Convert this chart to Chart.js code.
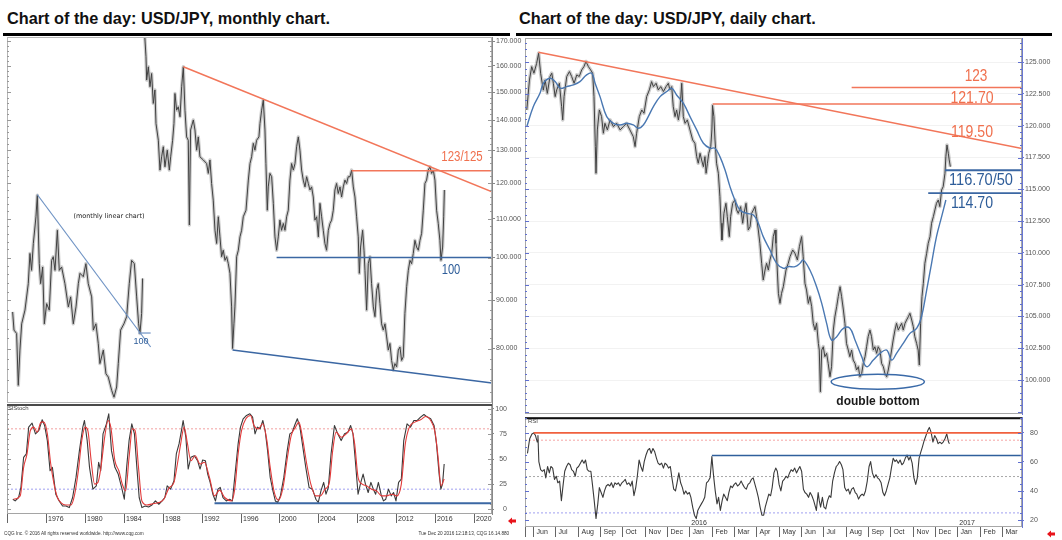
<!DOCTYPE html>
<html><head><meta charset="utf-8">
<script src="https://cdn.jsdelivr.net/npm/chart.js"></script>
<style>
html,body{margin:0;padding:0;background:#fff}
body{width:1062px;height:540px;position:relative;overflow:hidden;font-family:"Liberation Sans",Arial,sans-serif}
canvas{position:absolute}
.a{position:absolute;white-space:nowrap;line-height:1}
.c{transform:translate(-50%,-50%)}
.title{font-weight:bold;font-size:16.3px;color:#111;top:10px}
.bar{position:absolute;background:#000;height:3px;top:33px}
.red{color:#f0704e}
.blue{color:#2e5d99}
</style></head>
<body>
<div class="a title" style="left:7px">Chart of the day: USD/JPY, monthly chart.</div>
<div class="a title" style="left:519px">Chart of the day: USD/JPY, daily chart.</div>
<div class="bar" style="left:3px;width:507px"></div>
<div class="bar" style="left:516px;width:536px"></div>

<canvas id="lp" width="530" height="380" style="left:0;top:30px"></canvas>
<canvas id="ls" width="530" height="133" style="left:0;top:396px"></canvas>
<canvas id="rp" width="546" height="390" style="left:516px;top:30px"></canvas>
<canvas id="rr" width="546" height="133" style="left:516px;top:407px"></canvas>

<div class="a c" style="left:109px;top:216px;font-size:6.5px;color:#222;font-family:'DejaVu Sans'">(monthly linear chart)</div>
<div class="a c blue" style="left:141px;top:341px;font-size:9px">100</div>
<div class="a red" style="left:462px;top:156px;font-size:15.5px;transform:translate(-50%,-50%) scaleX(0.74)">123/125</div>
<div class="a blue" style="left:451px;top:269px;font-size:15.5px;transform:translate(-50%,-50%) scaleX(0.72)">100</div>
<div class="a" style="left:8px;top:405px;font-size:6px;color:#444">SlStoch</div>
<div class="a" style="left:528px;top:418px;font-size:6px;color:#444">RSI</div>

<div class="a red" style="left:976px;top:75px;font-size:17px;transform:translate(-50%,-50%) scaleX(0.8)">123</div>
<div class="a red" style="left:972px;top:97px;font-size:17px;transform:translate(-50%,-50%) scaleX(0.83)">121.70</div>
<div class="a red" style="left:972px;top:130.5px;font-size:17px;transform:translate(-50%,-50%) scaleX(0.83)">119.50</div>
<div class="a blue" style="left:981px;top:179px;font-size:17px;transform:translate(-50%,-50%) scaleX(0.86)">116.70/50</div>
<div class="a blue" style="left:972px;top:201.5px;font-size:17px;transform:translate(-50%,-50%) scaleX(0.83)">114.70</div>
<div class="a c" style="left:878px;top:401px;font-size:12px;font-weight:bold;color:#1a1a1a">double bottom</div>

<div class="a" style="left:4px;top:530px;font-size:6px;color:#333;transform:scaleX(0.78);transform-origin:left center">CQG Inc. © 2016 All rights reserved worldwide. http://www.cqg.com</div>
<div class="a" style="right:553px;top:530px;font-size:6px;color:#333;transform:scaleX(0.78);transform-origin:right center">Tue Dec 20 2016 12:18:13, CQG 16.14.880</div>
<svg width="1062" height="540" style="position:absolute;left:0;top:0;pointer-events:none">
<polygon fill="#e8141b" points="508,521 512,517.5 512,519.5 516,519.5 516,522.5 512,522.5 512,524.5"/>
<polygon fill="#e8141b" points="1047,534 1051,530.5 1051,532.5 1055,532.5 1055,535.5 1051,535.5 1051,537.5"/>
</svg>

<script>
// ---------------- DATA: monthly chart (x = year, y = USD/JPY) ----------------
const yearTicks = [1976,1980,1984,1988,1992,1996,2000,2004,2008,2012,2016,2020];
const monthlyPriceTicks = [80,90,100,110,120,130,140,150,160,170];
const stochTicks = [0,25,50,75,100];

const insetPrice = [[1972.55,87.5],[1972.69,83.7],[1972.96,83.0],[1973.13,73.1],[1973.30,79.7],[1973.48,85.0],[1973.82,87.9],[1974.16,93.8],[1974.33,101.0],[1974.50,96.9],[1974.68,103.5],[1974.95,110.5],[1975.09,116.5],[1975.29,98.5],[1975.43,93.8],[1975.64,97.7],[1975.81,85.0],[1976.05,89.3],[1976.32,87.9],[1976.56,99.3],[1976.73,100.2],[1976.91,96.9],[1977.15,106.9],[1977.35,96.9],[1977.59,97.7],[1977.93,93.8],[1978.28,88.6],[1978.52,90.8],[1978.79,85.0],[1979.07,88.6],[1979.31,93.8],[1979.48,96.2],[1979.82,95.4],[1980.09,98.5],[1980.33,93.8],[1980.68,90.8],[1980.85,83.7],[1981.12,85.0],[1981.36,81.0],[1981.53,77.1],[1981.88,79.7],[1982.15,75.2],[1982.39,74.6],[1982.74,72.2],[1982.98,71.0],[1983.25,72.8],[1983.42,77.1],[1983.66,83.7],[1984.00,85.0],[1984.28,86.5],[1984.55,93.8],[1984.79,99.3],[1985.07,98.5],[1985.31,90.8],[1985.51,85.0],[1985.65,83.0],[1985.82,87.2],[1985.92,95.0]];

const monthlyPrice = [[1986.10,175],[1986.27,163.6],[1986.34,154.5],[1986.51,159.6],[1986.68,152.0],[1986.85,157.0],[1987.02,145.9],[1987.19,150.8],[1987.30,138.9],[1987.54,133.3],[1987.71,123.9],[1987.88,128.0],[1988.05,131.2],[1988.22,124.9],[1988.46,130.1],[1988.67,123.9],[1988.81,128.0],[1989.01,133.3],[1989.15,138.9],[1989.25,149.5],[1989.42,143.5],[1989.59,144.7],[1989.77,141.2],[1989.94,152.0],[1990.11,159.6],[1990.28,143.5],[1990.45,134.4],[1990.62,133.3],[1990.73,108.3],[1990.86,136.7],[1991.14,140.1],[1991.31,136.7],[1991.48,130.1],[1991.65,134.4],[1991.82,128.0],[1992.17,127.0],[1992.51,125.9],[1992.68,122.9],[1992.85,127.0],[1993.02,119.9],[1993.19,115.1],[1993.37,106.9],[1993.54,103.5],[1993.71,110.5],[1993.88,105.2],[1994.05,100.2],[1994.22,101.8],[1994.40,99.3],[1994.57,100.2],[1994.74,98.5],[1994.91,96.2],[1995.08,88.6],[1995.18,80.0],[1995.32,85.0],[1995.42,88.6],[1995.60,100.2],[1995.77,101.8],[1995.94,105.2],[1996.11,106.9],[1996.28,110.5],[1996.56,112.3],[1996.80,120.9],[1996.97,125.9],[1997.14,128.0],[1997.31,132.3],[1997.48,130.1],[1997.65,133.3],[1997.89,134.4],[1998.00,138.9],[1998.17,143.5],[1998.34,147.1],[1998.51,136.7],[1998.61,125.9],[1998.75,112.3],[1998.85,118.9],[1999.02,122.9],[1999.20,121.9],[1999.37,114.2],[1999.54,105.2],[1999.71,101.8],[1999.88,105.2],[2000.05,109.6],[2000.22,106.9],[2000.40,108.7],[2000.57,106.9],[2000.74,110.5],[2000.91,112.3],[2001.08,120.9],[2001.25,125.9],[2001.43,123.9],[2001.60,125.9],[2001.77,131.2],[2001.94,134.4],[2002.11,130.1],[2002.28,123.9],[2002.45,120.9],[2002.63,118.9],[2002.80,121.9],[2002.97,119.9],[2003.14,118.0],[2003.31,118.9],[2003.48,116.0],[2003.65,109.6],[2003.83,110.5],[2004.00,105.2],[2004.17,114.2],[2004.34,110.5],[2004.51,106.9],[2004.68,103.5],[2004.85,101.8],[2005.03,106.9],[2005.20,108.7],[2005.37,109.6],[2005.54,112.3],[2005.71,118.0],[2005.88,119.9],[2006.05,117.0],[2006.23,118.9],[2006.40,116.0],[2006.57,118.9],[2006.74,120.9],[2006.91,119.9],[2007.08,121.9],[2007.26,121.9],[2007.43,123.9],[2007.60,118.9],[2007.77,116.0],[2007.94,110.5],[2008.11,105.2],[2008.22,96.2],[2008.35,102.6],[2008.56,106.9],[2008.70,101.8],[2008.80,96.9],[2008.97,87.9],[2009.14,98.5],[2009.31,100.2],[2009.48,93.8],[2009.66,88.6],[2009.83,86.5],[2010.00,92.3],[2010.17,93.8],[2010.34,89.3],[2010.51,85.0],[2010.68,83.7],[2010.86,85.0],[2011.03,82.3],[2011.20,79.7],[2011.37,81.0],[2011.54,77.7],[2011.71,75.9],[2011.88,77.1],[2012.06,76.5],[2012.23,79.7],[2012.40,80.3],[2012.57,77.7],[2012.74,78.4],[2012.91,87.2],[2013.09,93.1],[2013.26,96.9],[2013.43,99.3],[2013.60,98.5],[2013.77,101.0],[2013.94,104.3],[2014.11,102.6],[2014.29,101.8],[2014.46,104.3],[2014.63,106.1],[2014.80,112.3],[2014.97,119.9],[2015.14,120.9],[2015.31,123.9],[2015.49,124.9],[2015.66,122.9],[2015.83,123.9],[2016.00,120.9],[2016.17,112.3],[2016.34,108.7],[2016.51,104.3],[2016.62,99.3],[2016.79,102.6],[2016.90,110.5],[2016.97,118.0]];

const monthlyResistance = [[1990.11,159.6],[2021.87,117.5]];
const monthlyLevel123 = [[2007.43,123.7],[2021.87,123.7]];
const monthlyLevel100 = [[1999.71,100],[2021.87,100]];
const monthlySupport = [[1995.18,79.7],[2021.87,73.5]];
const insetTrend = [[1975.08,116.7],[1986.75,80.3]];
const insetLevel = [[1985.48,83.1],[1986.75,83.1]];

const stochK = [[1972.57,10],[1972.81,8.3],[1973.16,11.7],[1973.40,21.7],[1973.68,51.7],[1973.96,55],[1974.20,81.7],[1974.55,85.7],[1974.90,75],[1975.24,78.3],[1975.59,89],[1975.84,83.3],[1976.12,68.3],[1976.40,38.3],[1976.64,41.7],[1976.99,15],[1977.34,8.3],[1977.69,3.3],[1978.03,3.3],[1978.38,1.7],[1978.72,11.7],[1979.07,31.7],[1979.42,58.3],[1979.77,81.7],[1979.94,88.3],[1980.22,68.3],[1980.46,41.7],[1980.81,20],[1981.16,23.3],[1981.40,46.7],[1981.61,38.3],[1981.85,75],[1982.20,85],[1982.44,95],[1982.72,58.3],[1983.07,41.7],[1983.41,35],[1983.76,21.7],[1984.04,10],[1984.28,41.7],[1984.53,68.3],[1984.81,85],[1985.08,75],[1985.33,41.7],[1985.57,11.7],[1985.85,1.7],[1986.19,3.3],[1986.54,2.3],[1986.89,4.3],[1987.24,8.3],[1987.59,5],[1987.93,8.3],[1988.21,11.7],[1988.45,23.3],[1988.80,20],[1989.15,28.3],[1989.39,55],[1989.67,65],[1989.95,80],[1990.09,88.3],[1990.37,71.7],[1990.61,40],[1990.89,51.7],[1991.24,53.3],[1991.58,48.3],[1991.83,40],[1992.10,49],[1992.38,48.3],[1992.62,35],[1992.87,26.7],[1993.15,15],[1993.42,8.3],[1993.67,20],[1993.91,21.7],[1994.19,11.7],[1994.53,8.3],[1994.88,10],[1995.16,8.3],[1995.40,31.7],[1995.75,65],[1995.99,81.7],[1996.27,90],[1996.61,93.3],[1996.96,95],[1997.24,91.7],[1997.49,75],[1997.73,81.7],[1998.01,80],[1998.29,88.3],[1998.53,78.3],[1998.78,58.3],[1999.05,31.7],[1999.33,18.3],[1999.58,8.3],[1999.82,6.7],[2000.10,13.3],[2000.45,31.7],[2000.80,58.3],[2001.07,75],[2001.32,76.7],[2001.56,83.3],[2001.84,90],[2002.11,81.7],[2002.36,65],[2002.71,41.7],[2003.05,21.7],[2003.40,20],[2003.75,10],[2003.99,6.7],[2004.27,18.3],[2004.55,26.7],[2004.79,15],[2005.03,21.7],[2005.31,55],[2005.66,83.3],[2006.00,75],[2006.35,68.3],[2006.70,75],[2007.05,76.7],[2007.32,83.3],[2007.57,75],[2007.81,48.3],[2008.09,15],[2008.37,26.7],[2008.61,35],[2008.85,25],[2009.13,16.7],[2009.41,26.7],[2009.66,20],[2009.90,15],[2010.18,26.7],[2010.45,15],[2010.70,8.3],[2010.94,10],[2011.22,20],[2011.50,13.3],[2011.74,16.7],[2011.99,8.3],[2012.26,26.7],[2012.54,30],[2012.79,68.3],[2013.13,85],[2013.48,81.7],[2013.83,88.3],[2014.18,88.3],[2014.52,91.7],[2014.87,94.3],[2015.22,91.7],[2015.56,90],[2015.91,83.3],[2016.16,65],[2016.43,35],[2016.61,20],[2016.78,25],[2016.95,45]];

const stochD = [[1972.64,10],[1973.33,13.3],[1973.68,41.7],[1974.03,55],[1974.37,78.3],[1974.72,81.7],[1975.07,76.7],[1975.48,86.7],[1975.76,86.7],[1976.12,75],[1976.47,45],[1976.81,25],[1977.16,11.7],[1977.51,6.7],[1978.03,4.3],[1978.55,4.3],[1978.90,13.3],[1979.31,38.3],[1979.66,68.3],[1980.01,81.7],[1980.29,78.3],[1980.63,48.3],[1980.98,25],[1981.33,26.7],[1981.68,45],[1982.02,71.7],[1982.37,88.3],[1982.65,81.7],[1983.07,48.3],[1983.48,38.3],[1983.83,25],[1984.18,18.3],[1984.53,51.7],[1984.87,80],[1985.15,78.3],[1985.50,41.7],[1985.85,8.3],[1986.37,4.3],[1987.07,5.7],[1987.59,6.7],[1988.11,10],[1988.63,21],[1989.15,26.7],[1989.50,45],[1989.84,65],[1990.19,81.7],[1990.54,65],[1990.89,48.3],[1991.34,53.3],[1991.83,45],[1992.28,46.7],[1992.80,31.7],[1993.32,13.3],[1993.84,19],[1994.36,11.7],[1995.06,8.3],[1995.40,20],[1995.75,55],[1996.10,78.3],[1996.55,90],[1997.03,93.3],[1997.38,83.3],[1997.83,80],[1998.29,85],[1998.71,68.3],[1999.05,41.7],[1999.47,16.7],[1999.92,9],[2000.37,21.7],[2000.80,50],[2001.21,73.3],[2001.66,81.7],[2002.01,86.7],[2002.36,71.7],[2002.81,45],[2003.23,25],[2003.75,13.3],[2004.20,13.3],[2004.69,20],[2005.14,26.7],[2005.48,58.3],[2005.83,76.7],[2006.35,71.7],[2006.87,75],[2007.39,80],[2007.74,65],[2008.09,31.7],[2008.51,25],[2008.96,23.3],[2009.48,20],[2010.00,18.3],[2010.52,13.3],[2011.04,13.3],[2011.56,15],[2012.09,13.3],[2012.54,25],[2012.95,65],[2013.37,81.7],[2013.93,86.7],[2014.52,89],[2015.04,92.3],[2015.56,88.3],[2016.01,76.7],[2016.36,48.3],[2016.61,23.3],[2016.95,30]];

const stochLevel = [[1993.32,6],[2021.87,6]];
const stochUpper = [[1971.97,80],[2021.87,80]];
const stochLower = [[1971.97,20],[2021.87,20]];

// ---------------- DATA: daily chart (x = months since 1 Jun 2015) ----------------
const monthNames = ['Jun','Jul','Aug','Sep','Oct','Nov','Dec','Jan','Feb','Mar','Apr','May','Jun','Jul','Aug','Sep','Oct','Nov','Dec','Jan','Feb','Mar'];
const yearMarks = [[7,'2016'],[19,'2017']];
const dailyPriceTicks = [100,102.5,105,107.5,110,112.5,115,117.5,120,122.5,125];
const rsiTicks = [20,40,60,80];

const dailyPrice = [[-0.28,121.24],[-0.16,123.6],[-0.06,124.65],[0.04,124.13],[0.16,124.9],[0.25,125.7],[0.34,124.13],[0.46,122.8],[0.54,123.6],[0.64,122.55],[0.76,123.87],[0.84,124.13],[0.91,123.34],[0.99,122.29],[1.06,122.82],[1.18,123.34],[1.28,121.5],[1.33,120.46],[1.39,122.29],[1.51,123.87],[1.63,124.26],[1.73,123.87],[1.84,123.34],[1.96,124.0],[2.07,123.87],[2.18,124.39],[2.28,124.65],[2.37,125.05],[2.48,124.65],[2.58,124.39],[2.67,124.13],[2.73,122.29],[2.79,118.36],[2.82,116.26],[2.88,119.67],[2.97,121.24],[3.07,120.72],[3.15,119.41],[3.22,120.19],[3.33,119.67],[3.45,120.46],[3.60,119.93],[3.75,120.19],[3.90,119.67],[4.04,119.93],[4.19,120.19],[4.34,119.67],[4.49,119.14],[4.57,118.36],[4.64,119.41],[4.76,120.72],[4.87,121.24],[4.97,120.98],[5.09,122.29],[5.21,122.82],[5.31,123.47],[5.39,123.08],[5.51,123.34],[5.61,122.82],[5.72,123.08],[5.84,122.69],[5.96,123.08],[6.06,123.34],[6.13,122.82],[6.21,123.08],[6.28,121.5],[6.36,120.72],[6.43,121.24],[6.51,120.46],[6.58,121.24],[6.66,123.34],[6.73,120.72],[6.81,120.19],[6.91,120.46],[7.03,119.67],[7.15,118.88],[7.25,118.62],[7.33,117.57],[7.40,117.05],[7.48,117.83],[7.55,117.31],[7.63,116.78],[7.70,117.57],[7.75,116.26],[7.81,117.05],[7.87,117.83],[7.96,118.36],[8.01,119.67],[8.04,121.6],[8.10,120.72],[8.15,118.88],[8.22,117.05],[8.30,116.26],[8.37,114.42],[8.42,112.33],[8.46,111.01],[8.55,113.11],[8.64,113.9],[8.70,112.85],[8.79,111.28],[8.85,112.85],[8.94,113.9],[9.04,114.16],[9.12,113.38],[9.19,113.11],[9.30,113.64],[9.39,112.33],[9.45,113.11],[9.54,113.9],[9.64,111.8],[9.72,112.06],[9.79,113.11],[9.87,113.38],[9.94,113.64],[10.01,112.85],[10.09,111.8],[10.16,110.75],[10.24,109.18],[10.31,107.87],[10.39,108.65],[10.46,109.18],[10.54,108.65],[10.61,109.44],[10.69,109.97],[10.76,111.28],[10.84,111.8],[10.88,110.75],[10.94,108.65],[10.99,106.82],[11.06,106.03],[11.13,106.82],[11.21,107.34],[11.33,108.65],[11.43,109.18],[11.51,109.7],[11.63,110.23],[11.73,109.97],[11.84,109.44],[11.93,110.49],[12.03,111.28],[12.10,109.7],[12.18,107.6],[12.25,107.08],[12.33,106.03],[12.40,106.56],[12.48,105.77],[12.55,104.46],[12.63,103.93],[12.70,104.46],[12.78,102.88],[12.82,102.36],[12.87,99.08],[12.93,102.36],[13.00,102.62],[13.07,101.84],[13.15,102.1],[13.22,101.31],[13.30,100.26],[13.37,101.05],[13.45,103.93],[13.52,104.98],[13.60,105.77],[13.67,106.56],[13.75,107.34],[13.82,106.56],[13.90,105.51],[13.97,104.46],[14.04,102.88],[14.12,102.36],[14.19,101.84],[14.27,102.36],[14.34,101.57],[14.42,101.31],[14.49,100.79],[14.57,101.05],[14.64,100.26],[14.72,100.52],[14.79,101.31],[14.87,101.84],[14.94,102.62],[15.01,103.41],[15.09,103.93],[15.16,103.41],[15.24,102.36],[15.31,102.62],[15.39,102.1],[15.46,102.62],[15.54,102.36],[15.61,101.31],[15.69,101.05],[15.76,100.52],[15.84,100.26],[15.91,100.79],[15.99,101.57],[16.06,102.36],[16.13,103.15],[16.21,103.93],[16.28,104.46],[16.36,103.93],[16.43,104.2],[16.51,104.46],[16.58,103.93],[16.66,104.46],[16.73,104.72],[16.81,104.98],[16.88,105.25],[16.96,104.72],[17.03,104.2],[17.10,103.41],[17.18,102.88],[17.25,102.36],[17.30,101.18],[17.36,104.46],[17.42,106.56],[17.48,107.6],[17.55,109.18],[17.63,109.97],[17.70,110.75],[17.78,111.28],[17.85,112.33],[17.93,112.85],[18.00,113.38],[18.07,113.9],[18.15,114.16],[18.22,113.64],[18.30,114.95],[18.37,115.21],[18.45,116.26],[18.49,117.57],[18.54,118.49],[18.60,117.83],[18.64,117.31],[18.69,116.78]];

const dailyMA = [[-0.28,119.93],[0.01,121.5],[0.31,122.55],[0.46,123.34],[0.76,123.73],[0.99,123.47],[1.22,122.95],[1.51,123.08],[1.81,123.21],[2.10,123.47],[2.40,124.0],[2.63,124.13],[2.78,123.34],[3.00,122.29],[3.30,120.72],[3.60,120.19],[3.90,120.06],[4.19,120.19],[4.49,120.06],[4.72,119.8],[4.94,120.06],[5.16,120.72],[5.39,121.5],[5.69,122.29],[5.99,122.69],[6.21,122.95],[6.43,122.42],[6.73,121.77],[7.03,120.72],[7.33,119.67],[7.63,118.62],[7.93,118.23],[8.15,118.23],[8.37,117.57],[8.60,116.52],[8.82,115.21],[9.04,114.16],[9.27,113.38],[9.57,113.11],[9.87,112.98],[10.09,112.33],[10.31,111.28],[10.61,110.23],[10.91,109.18],[11.21,108.79],[11.43,108.92],[11.73,108.92],[11.96,109.18],[12.10,109.44],[12.40,108.65],[12.70,107.34],[12.93,106.03],[13.15,104.46],[13.37,103.15],[13.60,103.41],[13.90,104.07],[14.19,104.07],[14.42,103.15],[14.72,101.84],[14.94,101.05],[15.24,101.57],[15.54,102.1],[15.84,102.36],[16.06,101.57],[16.28,102.1],[16.58,102.88],[16.88,103.67],[17.18,104.07],[17.40,104.98],[17.63,107.08],[17.85,109.18],[18.07,111.28],[18.30,112.85],[18.49,114.16]];

const dailyTrend = [[0.24,125.78],[21.9,118.2]];
const dailyLevel123 = [[14.27,123],[21.9,123]];
const dailyLevel1217 = [[8.05,121.7],[21.9,121.7]];
const dailyLevel1165 = [[18.45,116.5],[21.9,116.5]];
const dailyLevel1147 = [[17.70,114.7],[21.9,114.7]];
const doubleBottom = {m:15.44, v:99.87, dm:2.09, dv:0.59};

const rsi = [[-0.25,65.9],[-0.15,76],[-0.05,79.3],[0.03,80],[0.11,78.2],[0.19,73.7],[0.22,78.2],[0.26,60.3],[0.34,54.7],[0.42,53.6],[0.50,54.7],[0.57,49.1],[0.65,56.9],[0.73,52.5],[0.80,56.9],[0.88,55.8],[0.96,48],[1.04,50.2],[1.11,45.7],[1.19,46.9],[1.27,33.4],[1.35,44.6],[1.42,53.6],[1.50,56.9],[1.58,59.2],[1.66,58.1],[1.73,54.7],[1.81,53.6],[1.89,50.2],[1.96,55.8],[2.04,56.9],[2.12,59.2],[2.20,61.4],[2.28,59.2],[2.35,61.4],[2.43,54.7],[2.51,53.6],[2.59,53.6],[2.66,44.6],[2.74,33.4],[2.82,21.1],[2.90,31.2],[2.97,42.4],[3.05,39],[3.13,35.7],[3.20,40.1],[3.28,43.5],[3.36,44.6],[3.44,43.5],[3.51,45.7],[3.59,42.4],[3.67,45.7],[3.75,44.6],[3.82,45.7],[3.90,43.5],[3.98,45.7],[4.06,46.9],[4.13,48],[4.21,44.6],[4.29,45.7],[4.37,43.5],[4.44,46.9],[4.52,36.8],[4.60,42.4],[4.67,50.2],[4.75,61.4],[4.83,56.9],[4.91,53.6],[4.98,60.3],[5.06,64.8],[5.14,68.1],[5.22,69.3],[5.29,65.9],[5.37,69.3],[5.45,67],[5.53,62.5],[5.60,59.2],[5.68,58.1],[5.76,59.2],[5.84,55.8],[5.91,59.2],[5.99,58.1],[6.07,55.8],[6.15,56.9],[6.22,49.1],[6.30,41.3],[6.38,40.1],[6.45,45.7],[6.53,52.5],[6.61,45.7],[6.69,42.4],[6.76,37.9],[6.84,40.1],[6.92,37.9],[7.00,39],[7.07,35.7],[7.15,29],[7.23,23.4],[7.31,21.1],[7.38,26.7],[7.46,29],[7.54,31.2],[7.62,33.4],[7.69,35.7],[7.77,45.7],[7.85,46.9],[7.93,49.1],[8.01,63.7],[8.08,51.3],[8.16,40.1],[8.24,31.2],[8.31,35.7],[8.39,26.7],[8.47,33.4],[8.54,37.9],[8.62,35.7],[8.70,33.4],[8.77,39],[8.85,43.5],[8.93,42.4],[9.01,44.6],[9.08,45.7],[9.16,43.5],[9.24,44.6],[9.32,46.9],[9.39,44.6],[9.47,42.4],[9.55,41.3],[9.63,44.6],[9.71,45.7],[9.78,48],[9.86,49.1],[9.94,44.6],[10.02,40.1],[10.09,35.7],[10.17,29],[10.25,23.4],[10.33,23.4],[10.40,29],[10.48,33.4],[10.56,37.9],[10.64,36.8],[10.71,42.4],[10.79,52.5],[10.87,55.8],[10.94,53.6],[11.02,44.6],[11.10,40.1],[11.18,46.9],[11.25,48],[11.33,50.2],[11.41,49.1],[11.49,52.5],[11.56,54.7],[11.64,53.6],[11.72,55.8],[11.80,52.5],[11.87,54.7],[11.95,56.9],[12.03,53.6],[12.11,41.3],[12.18,39],[12.26,37.9],[12.34,35.7],[12.41,39],[12.49,36.8],[12.57,33.4],[12.65,29],[12.69,26.7],[12.77,39],[12.82,33.4],[12.88,29],[12.96,35.7],[13.03,29],[13.11,27.8],[13.19,33.4],[13.27,36.8],[13.34,35.7],[13.42,46.9],[13.50,52.5],[13.58,56.9],[13.65,58.1],[13.73,60.3],[13.81,58.1],[13.88,54.7],[13.96,42.4],[14.04,40.1],[14.12,41.3],[14.19,37.9],[14.27,41.3],[14.35,42.4],[14.43,39],[14.50,37.9],[14.58,34.5],[14.66,36.8],[14.74,37.9],[14.81,36.8],[14.89,40.1],[14.97,46.9],[15.05,56.9],[15.12,60.3],[15.20,52.5],[15.28,49.1],[15.36,51.3],[15.43,49.1],[15.51,48],[15.59,45.7],[15.67,39],[15.74,36.8],[15.82,40.1],[15.90,44.6],[15.98,49.1],[16.05,55.8],[16.13,62.5],[16.21,60.3],[16.28,61.4],[16.36,59.2],[16.44,61.4],[16.52,58.1],[16.59,59.2],[16.67,62.5],[16.75,64.8],[16.83,61.4],[16.90,63.7],[16.98,59.2],[17.06,49.1],[17.14,44.6],[17.21,49.1],[17.29,62.5],[17.37,67],[17.44,70.4],[17.52,74.8],[17.60,78.2],[17.68,81.6],[17.75,83.8],[17.83,80.4],[17.91,73.7],[17.99,78.2],[18.07,76],[18.14,72.6],[18.22,73.7],[18.30,72.6],[18.37,73.7],[18.45,76],[18.53,79.3],[18.61,73.7],[18.65,72.6]];

const rsiLevel80 = [[0.03,80],[21.9,80]];
const rsiLevel645 = [[8.01,64.5],[21.9,64.5]];
const rsiDot75 = [[-0.36,75],[21.9,75]];
const rsiDot50 = [[-0.36,50],[21.9,50]];
const rsiDot25 = [[-0.36,25],[21.9,25]];

// ---------------- RENDERING ----------------
const LX_MIN = 1971.97, LX_MAX = 2021.87;
const RX_MIN = -0.36, RX_MAX = 21.9;
Chart.defaults.font.family = "'Liberation Sans', Arial, sans-serif";

const pts = a => a.map(([x, y]) => ({x, y}));
function ds(arr, color, width, order, extra) {
  return Object.assign({type:'line', data:pts(arr), borderColor:color, borderWidth:width,
    pointRadius:0, fill:false, tension:0, order:order, borderJoinStyle:'round'}, extra || {});
}

const deco = {
  id: 'deco',
  afterDraw(chart, args, o) {
    const {ctx, chartArea: a, scales} = chart;
    ctx.save();
    if (o.frame) {
      ctx.strokeStyle = o.frame; ctx.lineWidth = 1;
      ctx.strokeRect(a.left + 0.5, a.top + 0.5, a.right - a.left - 1, a.bottom - a.top - 1);
    }
    if (o.topLine) {
      ctx.strokeStyle = o.topLine.color; ctx.lineWidth = o.topLine.width;
      ctx.beginPath(); ctx.moveTo(a.left, a.top + o.topLine.width / 2); ctx.lineTo(a.right, a.top + o.topLine.width / 2); ctx.stroke();
    }
    if (o.minor) {
      const y = scales.y, m = o.minor;
      ctx.strokeStyle = m.color; ctx.lineWidth = 1;
      ctx.beginPath();
      for (let v = m.from; v <= m.to + 1e-9; v += m.step) {
        const p = Math.round(y.getPixelForValue(v)) + 0.5;
        if (p < a.top || p > a.bottom) continue;
        const big = Math.abs(v / m.major - Math.round(v / m.major)) < 1e-6;
        const L = big ? 4 : 2;
        ctx.moveTo(a.left, p); ctx.lineTo(a.left + L, p);
        ctx.moveTo(a.right, p); ctx.lineTo(a.right - L, p);
      }
      ctx.stroke();
    }
    if (o.ellipse) {
      const e = o.ellipse, x = scales.x, y = scales.y;
      const cx = x.getPixelForValue(e.m), cy = y.getPixelForValue(e.v);
      const rx = Math.abs(x.getPixelForValue(e.m + e.dm) - cx), ry = Math.abs(y.getPixelForValue(e.v + e.dv) - cy);
      ctx.strokeStyle = '#3a6aa8'; ctx.lineWidth = 1.5;
      ctx.beginPath(); ctx.ellipse(cx, cy, rx, ry, 0, 0, Math.PI * 2); ctx.stroke();
    }
    if (o.xrow) {
      const x = scales.x, r = o.xrow;
      const y0 = a.bottom, y1 = a.bottom + r.height;
      ctx.strokeStyle = '#666'; ctx.lineWidth = 1;
      ctx.font = r.font; ctx.fillStyle = '#333'; ctx.textBaseline = 'middle'; ctx.textAlign = 'left';
      ctx.beginPath(); ctx.moveTo(a.left + 0.5, y0); ctx.lineTo(a.left + 0.5, y1); ctx.stroke();
      r.values.forEach((v, i) => {
        const p = Math.round(x.getPixelForValue(v)) + 0.5;
        if (p < a.left || p > a.right) return;
        ctx.beginPath(); ctx.moveTo(p, y0); ctx.lineTo(p, y1); ctx.stroke();
        ctx.fillText(r.labels[i], p + r.dx, (y0 + y1) / 2 + 0.5);
      });
      if (r.marks) {
        ctx.textBaseline = 'alphabetic';
        r.marks.forEach(([v, lab]) => ctx.fillText(lab, x.getPixelForValue(v) + 2, a.bottom - 2));
      }
    }
    ctx.restore();
  }
};

function makeChart(id, datasets, xMin, xMax, yCfg, padding, decoOpts) {
  return new Chart(document.getElementById(id), {
    type: 'line',
    data: {datasets},
    options: {
      responsive: false, animation: false, devicePixelRatio: 1, events: [],
      layout: {padding},
      plugins: {legend: {display: false}, tooltip: {enabled: false}, deco: decoOpts},
      scales: {x: {type: 'linear', min: xMin, max: xMax, display: false}, y: yCfg}
    },
    plugins: [deco]
  });
}

const tickFont = {size: 7};
const RED = '#f2765a', BLUE = '#3b67a3';
const PX_DARK = '#404040', PX_SHADE = 'rgba(120,120,120,0.38)';

// Left price (log scale)
makeChart('lp', [
  ds(monthlyResistance, RED, 1.5, 0),
  ds(monthlyLevel123, RED, 1.5, 0),
  ds(monthlyLevel100, BLUE, 1.5, 0),
  ds(monthlySupport, BLUE, 1.5, 0),
  ds(insetTrend, '#6f93c4', 1.2, 0),
  ds(insetLevel, '#6f93c4', 1.2, 0),
  ds(insetPrice, PX_DARK, 1.0, 4),
  ds(monthlyPrice, PX_DARK, 1.0, 4),
  ds(insetPrice, PX_SHADE, 3.4, 6),
  ds(monthlyPrice, PX_SHADE, 3.4, 6)
], LX_MIN, LX_MAX, {
  type: 'logarithmic', position: 'right', min: 70, max: 171.7,
  afterBuildTicks: s => { s.ticks = monthlyPriceTicks.map(v => ({value: v})); },
  afterFit: s => { s.width = 38; },
  ticks: {callback: v => Number(v).toFixed(3), font: tickFont, color: '#555', padding: 1, autoSkip: false},
  grid: {drawOnChartArea: false, tickLength: 3, tickColor: '#888'},
  border: {color: '#888'}
}, {left: 7, right: 0, top: 7, bottom: 7}, {frame: '#b5b5b5', minor: {from: 70, to: 170, step: 2, major: 10, color: '#999'}});

// Left slow stochastic
makeChart('ls', [
  ds(stochLevel, '#3b67a3', 2.2, 0),
  ds(stochUpper, '#f2a0a0', 1, 8, {borderDash: [2, 2]}),
  ds(stochLower, '#a0a0f0', 1, 8, {borderDash: [2, 2]}),
  ds(stochK, '#3a3a3a', 1.1, 3),
  ds(stochD, '#e23a3a', 1.1, 2, {cubicInterpolationMode: 'monotone'})
], LX_MIN, LX_MAX, {
  type: 'linear', position: 'right', min: -4.7, max: 104.7,
  afterBuildTicks: s => { s.ticks = stochTicks.map(v => ({value: v})); },
  afterFit: s => { s.width = 15; },
  ticks: {font: tickFont, color: '#555', padding: 2, crossAlign: 'far', autoSkip: false},
  grid: {drawOnChartArea: false, tickLength: 2, tickColor: '#888'},
  border: {color: '#888'}
}, {left: 7, right: 23, top: 8, bottom: 15}, {
  frame: '#a5a5a5', topLine: {color: '#4a4a4a', width: 2},
  minor: {from: 0, to: 100, step: 5, major: 25, color: '#999'},
  xrow: {values: yearTicks, labels: yearTicks.map(String), height: 9, dx: 1.5, font: "7px 'Liberation Sans', Arial"}
});

// Right daily price
makeChart('rp', [
  ds(dailyTrend, RED, 1.5, 0),
  ds(dailyLevel123, RED, 1.5, 0),
  ds(dailyLevel1217, RED, 1.5, 0),
  ds(dailyLevel1165, BLUE, 1.8, 0),
  ds(dailyLevel1147, BLUE, 1.8, 0),
  ds(dailyMA, '#4a78b2', 1.4, 2, {tension: 0.4}),
  ds(dailyPrice, PX_DARK, 1.0, 4),
  ds(dailyPrice, PX_SHADE, 3.6, 6)
], RX_MIN, RX_MAX, {
  type: 'linear', position: 'right', min: 97.33, max: 126.9,
  afterBuildTicks: s => { s.ticks = dailyPriceTicks.map(v => ({value: v})); },
  afterFit: s => { s.width = 40; },
  ticks: {callback: v => Number(v).toFixed(3), font: tickFont, color: '#555', padding: 1, autoSkip: false},
  grid: {color: '#f2f2f2', tickLength: 2, tickColor: '#6a78d0'},
  border: {color: '#6a78d0'}
}, {left: 9, right: 0, top: 8, bottom: 6}, {
  frame: '#a8a8a8', minor: {from: 97.5, to: 126.5, step: 0.5, major: 2.5, color: '#5f6fd0'}, ellipse: doubleBottom
});

// Right RSI
makeChart('rr', [
  ds(rsiLevel80, '#f0603e', 1.6, 0),
  ds(rsiLevel645, '#2f5f9c', 1.6, 0),
  ds(rsiDot75, '#f5a5a5', 1, 8, {borderDash: [2, 2]}),
  ds(rsiDot50, '#a8a8a8', 1, 8, {borderDash: [2, 2]}),
  ds(rsiDot25, '#a0a0f0', 1, 8, {borderDash: [2, 2]}),
  ds(rsi, '#3a3a3a', 1.1, 3)
], RX_MIN, RX_MAX, {
  type: 'linear', position: 'right', min: 15.3, max: 90.8,
  afterBuildTicks: s => { s.ticks = rsiTicks.map(v => ({value: v})); },
  afterFit: s => { s.width = 40; },
  ticks: {font: tickFont, color: '#555', padding: 6, autoSkip: false},
  grid: {drawOnChartArea: false, tickLength: 2, tickColor: '#6a78d0'},
  border: {color: '#6a78d0'}
}, {left: 9, right: 0, top: 8, bottom: 13}, {
  frame: '#a8a8a8', topLine: {color: '#111', width: 2},
  minor: {from: 20, to: 90, step: 5, major: 20, color: '#5f6fd0'},
  xrow: {values: monthNames.map((n, i) => i), labels: monthNames, height: 10, dx: 3, font: "7px 'Liberation Sans', Arial", marks: yearMarks}
});
</script>
</body></html>
